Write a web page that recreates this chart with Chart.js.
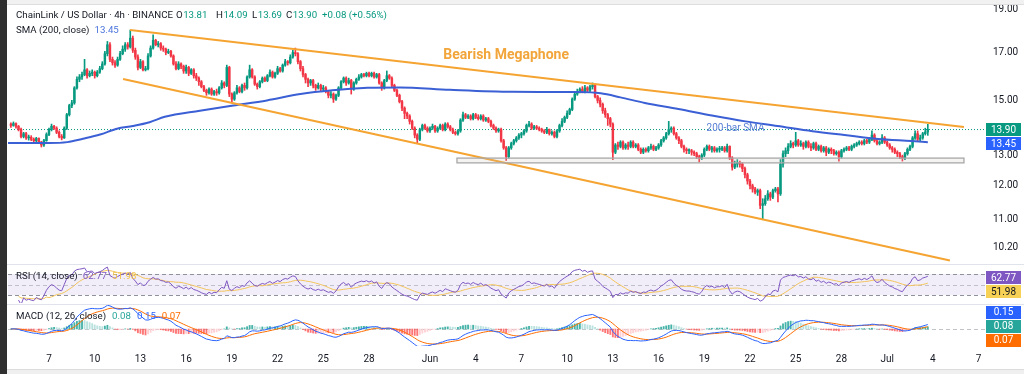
<!DOCTYPE html>
<html><head><meta charset="utf-8">
<script src="https://cdn.jsdelivr.net/npm/chart.js@4.4.1/dist/chart.umd.min.js"></script>
<style>
html,body{margin:0;padding:0;background:#fff;width:1024px;height:374px;overflow:hidden;position:relative}
canvas{position:absolute;left:0}
#leftbar{position:absolute;left:0;top:0;width:7px;height:374px;background:#2f2f2f}
#topbar{position:absolute;left:7px;right:0;top:0;height:4px;background:#f1f1f1;border-bottom:1px solid #dedede}
#botbar{position:absolute;left:7px;right:0;top:369px;height:5px;background:#efefef;border-top:1px solid #dcdcdc}
.sep{position:absolute;left:7px;right:0;height:1px;background:#e0e3eb}
</style></head><body>
<canvas id="main" width="1024" height="264" style="top:0"></canvas>
<canvas id="rsi" width="1024" height="40" style="top:264px"></canvas>
<canvas id="macd" width="1024" height="70" style="top:304px"></canvas>
<div class="sep" style="top:264px"></div>
<div class="sep" style="top:304px"></div>
<div id="topbar"></div><div id="botbar"></div><div id="leftbar"></div>
<script>
// ---------- DATA ----------
const START_DAY = 3.5;      // first candle: 4 May 12:00 (days counted from 1 May 00:00)
const BARS_PER_DAY = 6;     // 4h candles
const firstOpen = 14.1;
const closes = [
14.05,14.12,14.02,
13.9,13.65,13.75,13.6,13.62,13.55,
13.5,13.58,13.45,13.35,13.5,13.72,
13.9,14.02,13.95,13.8,13.65,13.6,
13.95,14.45,14.8,14.9,15.5,15.85,
15.95,16.05,16.25,16.0,16.1,16.15,
16.0,16.15,16.3,16.5,16.95,17.35,
16.7,16.55,16.45,16.7,16.95,17.15,
17.35,17.25,17.65,17.1,16.8,16.35,
16.6,16.25,16.3,16.85,17.2,17.55,
17.35,17.4,17.2,17.15,17.0,17.05,
16.85,16.5,16.3,16.5,16.4,16.2,
16.35,16.1,16.25,16.0,15.9,15.75,
15.55,15.4,15.3,15.45,15.25,15.35,
15.3,15.5,15.7,15.6,16.35,15.25,
15.05,15.3,15.5,15.35,15.6,15.5,
15.95,16.25,15.95,15.65,15.55,15.75,
15.9,15.8,16.0,16.15,15.95,16.1,
16.3,16.2,16.45,16.6,16.55,16.8,
17.0,16.95,16.6,16.3,16.05,15.85,
15.7,15.8,15.6,15.5,15.6,15.45,
15.5,15.35,15.2,15.25,15.05,15.2,
15.5,15.75,15.9,15.7,15.8,15.45,
15.7,15.85,15.95,16.05,16.0,16.1,
16.0,16.1,15.95,16.05,15.7,15.5,
15.8,16.0,15.9,15.6,15.4,15.2,
14.95,14.7,14.5,14.4,14.2,13.95,
13.7,13.55,13.9,14.05,13.95,13.85,
13.95,14.02,13.85,13.95,14.05,13.9,
14.1,14.0,13.9,13.8,13.75,13.85,
14.25,14.45,14.35,14.4,14.3,14.45,
14.35,14.3,14.4,14.25,14.3,14.2,
14.05,13.95,13.85,13.9,13.5,13.25,
12.95,13.25,13.4,13.5,13.6,13.7,
13.75,13.85,14.05,14.1,13.95,14.0,
13.95,13.9,13.85,13.8,13.9,13.75,
13.8,13.65,13.85,14.05,14.2,14.35,
14.5,14.65,15.05,15.25,15.35,15.45,
15.35,15.5,15.4,15.55,15.6,15.15,
15.0,14.85,14.6,14.45,14.3,14.1,
13.1,13.35,13.3,13.45,13.25,13.35,
13.3,13.45,13.3,13.35,13.2,13.1,
13.2,13.15,13.25,13.3,13.2,13.25,
13.35,13.5,13.6,13.75,13.9,13.95,
13.75,13.6,13.5,13.3,13.2,13.15,
13.15,13.1,13.05,12.95,12.9,13.0,
13.2,13.3,13.2,13.25,13.15,13.2,
13.2,13.25,13.15,13.3,12.9,12.6,
12.7,12.75,12.7,12.55,12.35,12.15,
12.0,11.9,11.8,11.85,11.4,11.45,
11.6,11.75,11.65,11.85,11.9,11.75,
12.7,13.05,13.15,13.3,13.4,13.35,
13.5,13.35,13.4,13.3,13.45,13.3,
13.25,13.4,13.2,13.3,13.15,13.25,
13.1,13.2,13.15,13.05,13.1,12.95,
13.15,13.2,13.25,13.2,13.3,13.35,
13.4,13.45,13.4,13.5,13.45,13.55,
13.7,13.5,13.4,13.45,13.6,13.45,
13.35,13.25,13.2,13.1,13.05,12.95,
12.9,13.05,13.2,13.3,13.6,13.75,
13.55,13.6,13.75,13.81,13.90];
const highs = [
14.15,14.18,14.15,
14.05,13.95,13.8,13.8,13.7,13.68,
13.6,13.62,13.6,13.48,13.55,13.78,
13.95,14.1,14.05,14.0,13.85,13.72,
14.0,14.5,14.85,15.0,15.55,15.95,
16.05,16.15,16.7,16.3,16.2,16.25,
16.2,16.22,16.4,16.6,17.05,17.5,
17.45,16.8,16.65,16.8,17.05,17.3,
17.45,17.45,18.03,17.75,17.2,16.9,
16.7,16.65,16.4,16.95,17.3,17.8,
17.6,17.5,17.45,17.3,17.2,17.15,
17.1,16.9,16.6,16.6,16.55,16.45,
16.45,16.4,16.3,16.3,16.1,15.95,
15.8,15.6,15.45,15.5,15.5,15.4,
15.45,15.55,15.8,15.75,16.45,16.4,
15.3,15.35,15.6,15.55,15.65,15.7,
16.0,16.45,16.3,16.0,15.7,15.8,
15.95,15.95,16.05,16.25,16.2,16.15,
16.4,16.35,16.5,16.7,16.65,16.9,
17.1,17.2,17.0,16.65,16.4,16.1,
15.9,15.85,15.85,15.65,15.7,15.65,
15.6,15.55,15.4,15.35,15.3,15.25,
15.55,15.8,15.95,15.95,15.9,15.85,
15.75,15.9,16.05,16.1,16.1,16.15,
16.15,16.15,16.15,16.1,16.1,15.75,
15.85,16.2,16.05,15.95,15.65,15.45,
15.25,15.0,14.75,14.55,14.45,14.25,
14.0,13.75,13.95,14.1,14.1,14.0,
14.0,14.1,14.05,14.0,14.1,14.1,
14.15,14.15,14.05,13.95,13.85,13.9,
14.3,14.55,14.5,14.45,14.45,14.5,
14.5,14.45,14.45,14.45,14.35,14.35,
14.25,14.1,14.0,13.95,13.95,13.55,
13.3,13.3,13.45,13.55,13.65,13.75,
13.8,13.9,14.1,14.2,14.15,14.05,
14.05,14.0,13.95,13.9,13.98,13.92,
13.85,13.85,13.9,14.1,14.3,14.4,
14.6,14.7,15.1,15.35,15.45,15.5,
15.55,15.6,15.55,15.6,15.7,15.65,
15.2,15.1,14.9,14.7,14.5,14.35,
14.15,13.4,13.45,13.5,13.5,13.4,
13.45,13.5,13.5,13.4,13.4,13.25,
13.25,13.25,13.3,13.38,13.35,13.3,
13.4,13.55,13.65,13.8,14.2,14.0,
14.0,13.8,13.65,13.55,13.35,13.25,
13.22,13.2,13.15,13.1,13.0,13.05,
13.25,13.35,13.35,13.3,13.3,13.25,
13.3,13.3,13.3,13.38,13.32,12.95,
12.8,12.85,12.8,12.75,12.6,12.4,
12.2,12.05,11.95,11.9,11.9,11.6,
11.7,11.85,11.8,11.9,11.95,11.95,
12.85,13.15,13.25,13.4,13.5,13.45,
13.8,13.55,13.5,13.45,13.5,13.5,
13.4,13.45,13.45,13.35,13.35,13.3,
13.3,13.25,13.25,13.2,13.15,13.15,
13.2,13.25,13.3,13.3,13.35,13.4,
13.45,13.5,13.5,13.55,13.55,13.6,
13.85,13.75,13.55,13.5,13.72,13.65,
13.5,13.4,13.3,13.25,13.15,13.1,
13.0,13.1,13.25,13.35,13.65,13.85,
13.85,13.7,13.8,13.95,14.09];
const lows = [
13.98,14.02,13.95,
13.85,13.6,13.6,13.55,13.52,13.5,
13.45,13.45,13.4,13.28,13.3,13.48,
13.68,13.85,13.9,13.75,13.6,13.53,
13.58,13.9,14.4,14.72,14.85,15.45,
15.75,15.85,16.0,15.9,15.95,16.0,
15.9,15.95,16.1,16.25,16.45,16.85,
16.6,16.45,16.35,16.4,16.65,16.9,
17.05,17.15,17.2,17.0,16.7,16.25,
16.3,16.2,16.2,16.25,16.8,17.15,
17.3,17.25,17.1,17.05,16.9,16.95,
16.8,16.45,16.25,16.25,16.3,16.1,
16.1,16.0,16.05,15.9,15.8,15.6,
15.5,15.35,15.2,15.25,15.2,15.2,
15.2,15.25,15.45,15.5,15.55,15.15,
14.9,15.0,15.25,15.3,15.3,15.4,
15.45,15.9,15.9,15.6,15.45,15.5,
15.7,15.75,15.75,15.95,15.9,15.9,
16.05,16.15,16.15,16.4,16.45,16.5,
16.75,16.85,16.5,16.2,15.95,15.7,
15.55,15.6,15.5,15.4,15.45,15.35,
15.35,15.3,15.1,15.1,14.92,15.0,
15.15,15.45,15.7,15.6,15.65,15.25,
15.4,15.65,15.8,15.9,15.95,15.95,
15.95,15.95,15.9,15.9,15.65,15.4,
15.45,15.75,15.85,15.55,15.35,15.15,
14.9,14.6,14.3,14.3,14.1,13.9,
13.6,13.42,13.5,13.85,13.9,13.8,
13.8,13.9,13.8,13.8,13.9,13.85,
13.85,13.95,13.85,13.75,13.7,13.7,
13.8,14.2,14.3,14.3,14.25,14.25,
14.3,14.25,14.25,14.2,14.2,14.15,
14.0,13.9,13.8,13.8,13.45,13.2,
12.82,12.9,13.2,13.35,13.45,13.55,
13.6,13.7,13.8,14.0,13.9,13.9,
13.9,13.85,13.8,13.75,13.75,13.7,
13.7,13.6,13.6,13.8,14.0,14.15,
14.3,14.45,14.6,15.0,15.2,15.3,
15.3,15.3,15.35,15.35,15.45,15.1,
14.9,14.75,14.5,14.35,14.05,14.0,
12.85,13.05,13.2,13.25,13.2,13.2,
13.2,13.25,13.25,13.25,13.15,13.05,
13.05,13.1,13.1,13.2,13.15,13.15,
13.2,13.3,13.45,13.55,13.7,13.8,
13.7,13.55,13.4,13.25,13.1,13.05,
13.05,13.0,12.98,12.88,12.77,12.85,
12.95,13.15,13.15,13.1,13.1,13.1,
13.1,13.15,13.1,13.1,12.85,12.5,
12.55,12.6,12.6,12.45,12.25,12.05,
11.9,11.8,11.75,11.7,11.3,10.98,
11.4,11.55,11.55,11.6,11.8,11.5,
11.7,12.6,12.95,13.05,13.25,13.25,
13.3,13.3,13.3,13.2,13.25,13.25,
13.15,13.2,13.15,13.15,13.1,13.1,
12.98,13.05,13.05,13.0,13.0,12.8,
12.9,13.1,13.15,13.15,13.15,13.25,
13.3,13.35,13.35,13.35,13.4,13.4,
13.5,13.45,13.35,13.35,13.4,13.4,
13.3,13.2,13.1,13.05,12.95,12.88,
12.8,12.85,13.0,13.15,13.25,13.55,
13.5,13.5,13.55,13.7,13.69];
// SMA(200)
const smaDays   = [3.31,6.0,7.2,8.23,9.35,10.46,11.5,12.6,13.6,15.9,18.1,20.3,22.5,24.6,26.9,29.0,32.3,36.4,40.8,42.2,43.5,45.1,47.3,49.5,51.7,53.8,56.1,58.2,60.4,62.6,63.67];
const smaValues = [13.42,13.42,13.45,13.57,13.72,13.93,14.03,14.17,14.37,14.6,14.8,15.0,15.25,15.4,15.5,15.52,15.42,15.34,15.33,15.28,15.12,14.9,14.67,14.42,14.2,14.03,13.84,13.7,13.56,13.49,13.45];
// drawn trend lines and support zone
const upperLineDays = [11.32, 66.04], upperLinePrices = [18.03, 13.99];
const lowerLineDays = [10.86, 65.12], lowerLinePrices = [15.86, 9.87];
const supportDays = [32.77, 66.04], supportPrices = [12.74, 12.90];
const megaphoneLabelAt = [36.0, 16.89], smaLabelAt = [51.05, 13.95];
// axes
const priceTicks = [19, 17, 15, 13, 12, 11, 10.2];
const timeTickDays = [6,9,12,15,18,21,24,27,31,34,37,40,43,46,49,52,55,58,61,64,67];
const timeTickLabels = ['7','10','13','16','19','22','25','28','Jun','4','7','10','13','16','19','22','25','28','Jul','4','7'];
const lastPrice = 13.90, lastSma = 13.45;
const rsiValuesShown = [62.77, 51.98];
const macdValuesShown = [0.15, 0.08, 0.07];   // MACD, histogram, signal

// ---------- VIEW ----------
const X_MIN = 3.31, X_MAX = 67.42;
const PRICE_MIN = 9.78, PRICE_MAX = 19.25;
const RSI_MIN = 15, RSI_MAX = 87;
const MACD_MIN = -0.515, MACD_MAX = 0.727;
const UP = '#089981', DOWN = '#f23645', ORANGE = '#f5a431', DARK = '#131722', FONT = 'Roboto, "Noto Sans", sans-serif';
const LEGEND_FONT = '9.7px ' + FONT;
Chart.defaults.font.family = FONT;

// ---------- DERIVED ----------
const days = closes.map((_, i) => START_DAY + i / BARS_PER_DAY);
const opens = closes.map((c, i) => i === 0 ? firstOpen : closes[i - 1]);
const candleColors = closes.map((c, i) => c >= opens[i] ? UP : DOWN);
const wickData = days.map((d, i) => ({x: d, y: [Math.min(lows[i], opens[i], closes[i]), Math.max(highs[i], opens[i], closes[i])]}));
const bodyData = days.map((d, i) => ({x: d, y: [Math.min(opens[i], closes[i]), Math.max(opens[i], closes[i])]}));
const pts = (xs, ys) => xs.map((x, i) => ({x, y: ys[i]}));

function wilderRsi(series, period) {
  const out = [null]; let ag = 0, al = 0;
  for (let i = 1; i < series.length; i++) {
    const ch = series[i] - series[i - 1], k = Math.min(i, period);
    ag = (ag * (k - 1) + Math.max(ch, 0)) / k;
    al = (al * (k - 1) + Math.max(-ch, 0)) / k;
    out.push(al === 0 ? 100 : 100 - 100 / (1 + ag / al));
  }
  return out;
}
function smaOf(vals, p) { return vals.map((_, i) => { const s = vals.slice(Math.max(0, i - p + 1), i + 1); return s.reduce((a, b) => a + b, 0) / s.length; }); }
function emaOf(vals, p) { const k = 2 / (p + 1); let e; return vals.map((v, i) => (e = i === 0 ? v : v * k + e * (1 - k))); }

const rsiVals = wilderRsi([firstOpen].concat(closes), 14).slice(1);
const rsiMaVals = smaOf(rsiVals, 14);
const WARM = 3;
const rsiData = days.map((d, i) => ({x: d, y: i < WARM ? null : rsiVals[i]}));
const rsiMaData = days.map((d, i) => ({x: d, y: i < WARM ? null : rsiMaVals[i]}));
const ema12 = emaOf(closes, 12), ema26 = emaOf(closes, 26);
const macdVals = closes.map((_, i) => ema12[i] - ema26[i]);
const signalVals = emaOf(macdVals, 9);
const histVals = macdVals.map((m, i) => m - signalVals[i]);
const histColors = histVals.map((h, i) => {
  const prev = i ? histVals[i - 1] : h;
  return h >= 0 ? (h >= prev ? 'rgba(38,166,154,0.85)' : 'rgba(178,223,219,0.9)') : (h >= prev ? 'rgba(255,205,210,0.95)' : 'rgba(255,82,82,0.8)');
});

// ---------- HELPERS ----------
function drawRuns(ctx, runs, x, y) {
  runs.forEach(([t, color, gap]) => { ctx.fillStyle = color; ctx.fillText(t, x, y); x += ctx.measureText(t).width + (gap || 0); });
}
function drawTags(chart, scale, tags, anchor) {
  const ctx = chart.ctx, h = 13, gap = 1, left = chart.chartArea.right + 1, w = 35;
  const pos = tags.map(t => scale.getPixelForValue(t.v));
  for (let i = anchor - 1; i >= 0; i--) pos[i] = Math.min(pos[i], pos[i + 1] - h - gap);
  for (let i = anchor + 1; i < tags.length; i++) pos[i] = Math.max(pos[i], pos[i - 1] + h + gap);
  ctx.save();
  ctx.font = '10px ' + FONT; ctx.textAlign = 'center'; ctx.textBaseline = 'middle';
  tags.forEach((t, i) => {
    ctx.fillStyle = t.bg; ctx.fillRect(left, Math.round(pos[i] - h / 2), w, h);
    ctx.fillStyle = t.fg || '#ffffff'; ctx.fillText(t.text, left + w / 2, pos[i] + 0.5);
  });
  ctx.restore();
}
const common = {
  responsive: false, animation: false, events: [], devicePixelRatio: 1,
  plugins: {legend: {display: false}, tooltip: {enabled: false}}
};
const hiddenX = {type: 'linear', min: X_MIN, max: X_MAX, offset: false, display: false};
const noPad = s => { s.paddingTop = 0; s.paddingBottom = 0; s.paddingLeft = 0; s.paddingRight = 0; };

// ---------- MAIN PANEL ----------
const mainPlugin = {
  id: 'mainDeco',
  afterDatasetsDraw(chart) {
    const {ctx, chartArea: a, scales: {x, y}} = chart;
    ctx.save();
    ctx.beginPath(); ctx.rect(a.left, a.top, a.right - a.left, a.bottom - a.top); ctx.clip();
    const x0 = x.getPixelForValue(supportDays[0]), x1 = x.getPixelForValue(supportDays[1]);
    const yT = y.getPixelForValue(supportPrices[1]), yB = y.getPixelForValue(supportPrices[0]);
    ctx.fillStyle = 'rgba(200,190,180,0.18)'; ctx.fillRect(x0, yT, x1 - x0, yB - yT);
    ctx.strokeStyle = '#a8a8a8'; ctx.lineWidth = 1.3; ctx.strokeRect(x0, yT, x1 - x0, yB - yT);
    ctx.textAlign = 'center'; ctx.textBaseline = 'middle';
    ctx.font = 'bold 14px ' + FONT; ctx.fillStyle = '#f2a53a';
    ctx.fillText('Bearish Megaphone', x.getPixelForValue(megaphoneLabelAt[0]), y.getPixelForValue(megaphoneLabelAt[1]));
    ctx.font = '10px ' + FONT; ctx.fillStyle = '#5b80d6';
    ctx.fillText('200-bar SMA', x.getPixelForValue(smaLabelAt[0]), y.getPixelForValue(smaLabelAt[1]));
    ctx.restore();
  },
  afterDraw(chart) {
    const ctx = chart.ctx;
    ctx.save();
    ctx.font = LEGEND_FONT; ctx.textBaseline = 'middle'; ctx.textAlign = 'left';
    ctx.fillStyle = DARK; ctx.fillText('ChainLink / US Dollar · 4h · BINANCE', 16, 16);
    [['O', '13.81', 176], ['H', '14.09', 216], ['L', '13.69', 252], ['C', '13.90', 286]].forEach(([k, v, x]) => drawRuns(ctx, [[k, DARK, 0.5], [v, UP]], x, 16));
    ctx.fillStyle = UP; ctx.fillText('+0.08 (+0.56%)', 322, 16);
    drawRuns(ctx, [['SMA (200, close)', DARK, 5], ['13.45', '#4a74dc']], 16, 31);
    ctx.restore();
    drawTags(chart, chart.scales.y, [{v: lastPrice, text: '13.90', bg: UP}, {v: lastSma, text: '13.45', bg: '#2962ff'}], 0);
  }
};
new Chart(document.getElementById('main'), {
  type: 'bar',
  data: {datasets: [
    {type: 'line', data: pts(upperLineDays, upperLinePrices), borderColor: ORANGE, borderWidth: 2, pointRadius: 0, order: 0},
    {type: 'line', data: pts(lowerLineDays, lowerLinePrices), borderColor: ORANGE, borderWidth: 2, pointRadius: 0, order: 0},
    {type: 'line', data: pts(smaDays, smaValues), borderColor: '#3b5fd4', borderWidth: 2, pointRadius: 0, cubicInterpolationMode: 'monotone', order: 1},
    {data: bodyData, backgroundColor: candleColors, barThickness: 1.8, grouped: false, minBarLength: 1, order: 2},
    {data: wickData, backgroundColor: candleColors, barThickness: 1, grouped: false, order: 3},
    {type: 'line', data: [{x: X_MIN, y: lastPrice}, {x: X_MAX, y: lastPrice}], borderColor: UP, borderWidth: 1, borderDash: [1, 2], pointRadius: 0, order: 4}
  ]},
  options: Object.assign({}, common, {
    layout: {padding: {left: 8, top: 5, right: 0, bottom: 0}},
    scales: {
      x: hiddenX,
      y: {type: 'logarithmic', position: 'right', min: PRICE_MIN, max: PRICE_MAX, bounds: 'data',
        afterFit: s => { s.width = 39; noPad(s); },
        afterBuildTicks: s => { s.ticks = priceTicks.map(v => ({value: v})); },
        ticks: {callback: v => Number(v).toFixed(2), color: DARK, font: {size: 10}, padding: 8, autoSkip: false},
        grid: {display: false, drawTicks: false}, border: {display: false}}
    }
  }),
  plugins: [mainPlugin]
});

// ---------- RSI PANEL ----------
const rsiPlugin = {
  id: 'rsiDeco',
  beforeDatasetsDraw(chart) {
    const {ctx, chartArea: a, scales: {y}} = chart;
    const y70 = y.getPixelForValue(70), y30 = y.getPixelForValue(30), y50 = y.getPixelForValue(50);
    ctx.save();
    ctx.fillStyle = 'rgba(126,87,194,0.1)'; ctx.fillRect(a.left, y70, a.right - a.left, y30 - y70);
    ctx.lineWidth = 1; ctx.setLineDash([4, 3]);
    ctx.strokeStyle = '#8f929b';
    [y70, y30].forEach(v => { ctx.beginPath(); ctx.moveTo(a.left, Math.round(v) + 0.5); ctx.lineTo(a.right, Math.round(v) + 0.5); ctx.stroke(); });
    ctx.strokeStyle = 'rgba(143,146,155,0.5)';
    ctx.beginPath(); ctx.moveTo(a.left, Math.round(y50) + 0.5); ctx.lineTo(a.right, Math.round(y50) + 0.5); ctx.stroke();
    ctx.restore();
  },
  afterDraw(chart) {
    const ctx = chart.ctx;
    ctx.save(); ctx.font = LEGEND_FONT; ctx.textBaseline = 'middle';
    drawRuns(ctx, [['RSI (14, close)', DARK, 5], ['62.77', '#7e57c2', 5], ['51.98', '#f0c24a']], 16, 13);
    ctx.restore();
    drawTags(chart, chart.scales.y, [{v: rsiValuesShown[0], text: '62.77', bg: '#7e57c2'}, {v: rsiValuesShown[1], text: '51.98', bg: '#f7d155', fg: DARK}], 0);
  }
};
new Chart(document.getElementById('rsi'), {
  type: 'line',
  data: {datasets: [
    {data: rsiData, borderColor: '#7e57c2', borderWidth: 1, pointRadius: 0, order: 0},
    {data: rsiMaData, borderColor: '#f3c45a', borderWidth: 1, pointRadius: 0, order: 1}
  ]},
  options: Object.assign({}, common, {
    layout: {padding: {left: 8, top: 1, right: 39, bottom: 1}},
    scales: {x: hiddenX, y: {type: 'linear', min: RSI_MIN, max: RSI_MAX, display: false}}
  }),
  plugins: [rsiPlugin]
});

// ---------- MACD PANEL ----------
const macdPlugin = {
  id: 'macdDeco',
  beforeDatasetsDraw(chart) {
    const {ctx, chartArea: a, scales: {y}} = chart;
    const y0 = Math.round(y.getPixelForValue(0)) + 0.5;
    ctx.save(); ctx.strokeStyle = 'rgba(143,146,155,0.55)'; ctx.lineWidth = 1; ctx.setLineDash([4, 3]);
    ctx.beginPath(); ctx.moveTo(a.left, y0); ctx.lineTo(a.right, y0); ctx.stroke(); ctx.restore();
  },
  afterDraw(chart) {
    const ctx = chart.ctx;
    ctx.save(); ctx.font = LEGEND_FONT; ctx.textBaseline = 'middle';
    drawRuns(ctx, [['MACD (12, 26, close)', DARK, 6], ['0.08', '#26a69a', 6], ['0.15', '#2962ff', 6], ['0.07', '#ff6d00']], 16, 13);
    ctx.restore();
    drawTags(chart, chart.scales.y, [
      {v: macdValuesShown[0], text: '0.15', bg: '#2962ff'},
      {v: macdValuesShown[1], text: '0.08', bg: '#26a69a'},
      {v: macdValuesShown[2], text: '0.07', bg: '#ff6d00'}], 1);
  }
};
new Chart(document.getElementById('macd'), {
  type: 'bar',
  data: {datasets: [
    {type: 'line', data: pts(days, macdVals), borderColor: '#2962ff', borderWidth: 1, pointRadius: 0, order: 0},
    {type: 'line', data: pts(days, signalVals), borderColor: '#ff6d00', borderWidth: 1, pointRadius: 0, order: 1},
    {data: pts(days, histVals), backgroundColor: histColors, barThickness: 1.2, grouped: false, order: 2}
  ]},
  options: Object.assign({}, common, {
    layout: {padding: {left: 8, top: 1, right: 39, bottom: 0}},
    scales: {
      x: {type: 'linear', min: X_MIN, max: X_MAX, offset: false, position: 'bottom',
        afterFit: s => { s.height = 28; noPad(s); },
        afterBuildTicks: s => { s.ticks = timeTickDays.map(v => ({value: v})); },
        ticks: {callback: (v, i) => timeTickLabels[i], color: DARK, font: {size: 10}, padding: 7, autoSkip: false, maxRotation: 0},
        grid: {display: false, drawTicks: false}, border: {display: false}},
      y: {type: 'linear', min: MACD_MIN, max: MACD_MAX, display: false}
    }
  }),
  plugins: [macdPlugin]
});
</script>
</body></html>
